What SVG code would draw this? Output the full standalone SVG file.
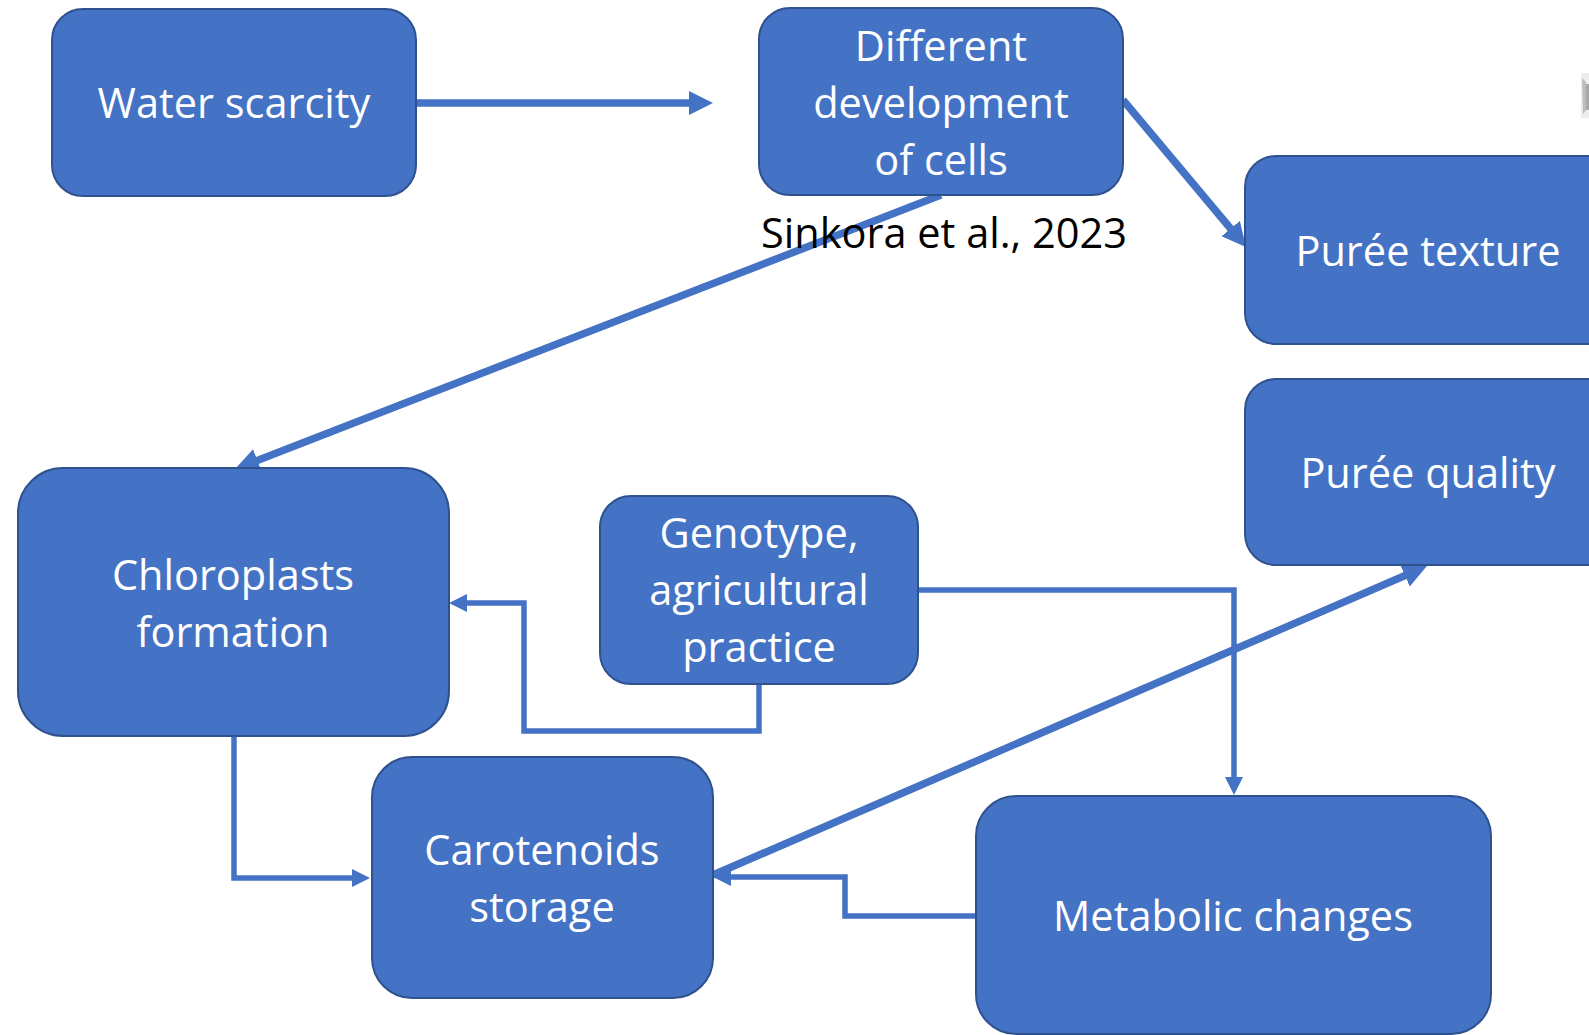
<svg xmlns="http://www.w3.org/2000/svg" width="1589" height="1035" viewBox="0 0 1589 1035">
  <style>
    .box { fill: #4472C4; stroke: #2F528F; stroke-width: 2; }
    .lbl { fill: #FFFFFF; font-family: "Open Sans", "Noto Sans", "Liberation Sans", sans-serif; font-size: 41.5px; text-anchor: middle; }
    .cite { fill: #000000; font-family: "Open Sans", "Noto Sans", "Liberation Sans", sans-serif; font-size: 41.5px; }
    .thick { fill: none; stroke: #4472C4; stroke-width: 7.5; }
    .thin { fill: none; stroke: #4472C4; stroke-width: 5.5; }
  </style>
  <defs>
    <marker id="headBig" viewBox="0 0 24 24" markerWidth="24" markerHeight="24" refX="9" refY="12" orient="auto" markerUnits="userSpaceOnUse">
      <path d="M0,0 L24,12 L0,24 z" fill="#4472C4"/>
    </marker>
    <marker id="headSmall" viewBox="0 0 18 18" markerWidth="18" markerHeight="18" refX="6" refY="9" orient="auto" markerUnits="userSpaceOnUse">
      <path d="M0,0 L18,9 L0,18 z" fill="#4472C4"/>
    </marker>
  </defs>

  <rect width="1589" height="1035" fill="#FFFFFF"/>

  <!-- small photo fragment at the right edge -->
  <g id="photo-edge">
    <rect x="1581" y="73" width="8" height="45" fill="#EDEDED"/>
    <path d="M1582,78 L1586,82 L1586,110 L1583,114 Z" fill="#B0B0B0" opacity="0.8"/>
    <rect x="1586" y="84" width="3" height="26" fill="#7A7A7A" opacity="0.6"/>
  </g>

  <!-- connectors -->
  <g id="connectors">
    <path class="thick" d="M416,103 H698" marker-end="url(#headBig)"/>
    <path class="thick" d="M1123,100 L1236.4,235.5" marker-end="url(#headBig)"/>
    <path class="thick" d="M941,195 L249,463.6" marker-end="url(#headBig)"/>
    <path class="thick" d="M713,875 L1413.2,572" marker-end="url(#headBig)"/>
    <path class="thin" d="M759,684 V731 H524 V603 H461" marker-end="url(#headSmall)"/>
    <path class="thin" d="M918,590 H1234 V783" marker-end="url(#headSmall)"/>
    <path class="thin" d="M976,916 H845 V877 H725" marker-end="url(#headSmall)"/>
    <path class="thin" d="M234,736 V878 H358" marker-end="url(#headSmall)"/>
  </g>

  <g id="water-scarcity">
    <rect class="box" x="52" y="9" width="364" height="187" rx="31"/>
    <text class="lbl" x="234" y="118">Water scarcity</text>
  </g>

  <g id="cell-development">
    <rect class="box" x="759" y="8" width="364" height="187" rx="31"/>
    <text class="lbl" x="941" y="61">Different</text>
    <text class="lbl" x="941" y="118">development</text>
    <text class="lbl" x="941" y="175">of cells</text>
  </g>

  <g id="puree-texture">
    <rect class="box" x="1245" y="156" width="380" height="188" rx="31"/>
    <text class="lbl" x="1428" y="266">Purée texture</text>
  </g>

  <g id="puree-quality">
    <rect class="box" x="1245" y="379" width="380" height="186" rx="31"/>
    <text class="lbl" x="1428" y="488">Purée quality</text>
  </g>

  <g id="chloroplasts">
    <rect class="box" x="18" y="468" width="431" height="268" rx="45"/>
    <text class="lbl" x="233" y="590">Chloroplasts</text>
    <text class="lbl" x="233" y="647">formation</text>
  </g>

  <g id="genotype">
    <rect class="box" x="600" y="496" width="318" height="188" rx="31"/>
    <text class="lbl" x="759" y="548">Genotype,</text>
    <text class="lbl" x="759" y="605">agricultural</text>
    <text class="lbl" x="759" y="662">practice</text>
  </g>

  <g id="carotenoids">
    <rect class="box" x="372" y="757" width="341" height="241" rx="40"/>
    <text class="lbl" x="542" y="865">Carotenoids</text>
    <text class="lbl" x="542" y="922">storage</text>
  </g>

  <g id="metabolic">
    <rect class="box" x="976" y="796" width="515" height="238" rx="40"/>
    <text class="lbl" x="1233" y="931">Metabolic changes</text>
  </g>

  <text id="citation" class="cite" x="761" y="248">Sinkora et al., 2023</text>
</svg>
